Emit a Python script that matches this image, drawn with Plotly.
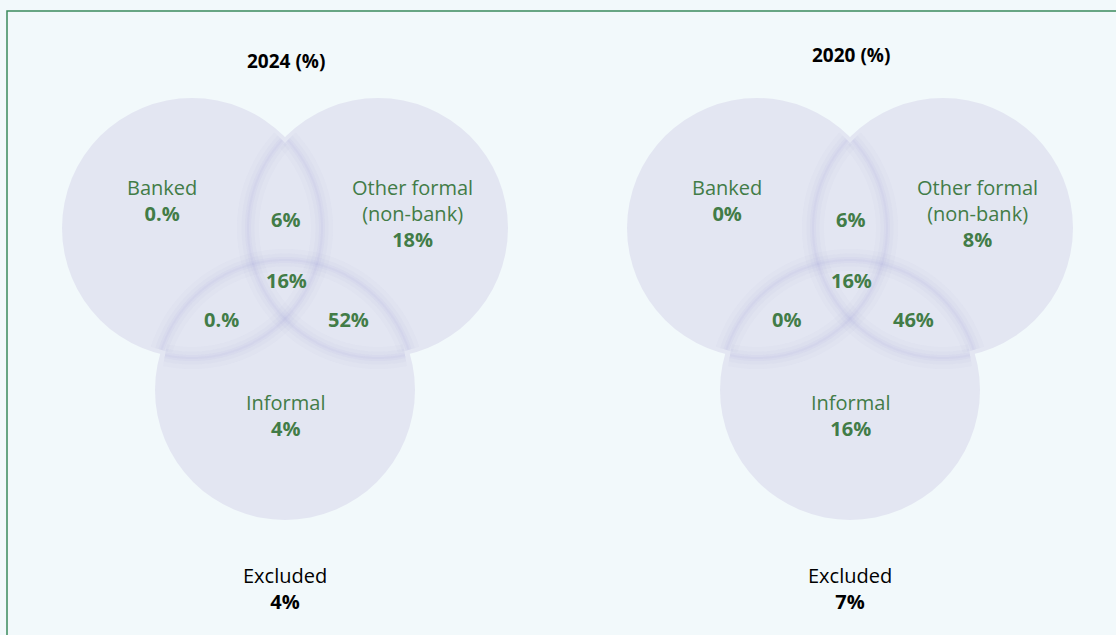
import numpy as np
import plotly.graph_objects as go

# --- data -------------------------------------------------------------
panels = ["2024 (%)", "2020 (%)"]
set_names = ["Banked", "Other formal<br>(non-bank)", "Informal"]
banked_only = ["0.%", "0%"]
other_only = ["18%", "8%"]
informal_only = ["4%", "16%"]
banked_other = ["6%", "6%"]
banked_informal = ["0.%", "0%"]
other_informal = ["52%", "46%"]
all_three = ["16%", "16%"]
excluded = ["4%", "7%"]

# --- layout -------------------------------------------------------------
W, H = 1116, 635
BG = "#f2f9fb"
FILL = "#e3e6f2"
GREEN = "#427c47"
FONT = "Open Sans"
R = 130
panel_cx = [285, 850]
title_y = [61, 55]

fig = go.Figure()


def circles_for(cx):
    return [(cx - 93, 228), (cx + 93, 228), (cx, 390)]


def inner_arcs(circs, i):
    # pieces of circle i's edge that lie inside another circle
    x0, y0 = circs[i]
    th = np.linspace(0, 2 * np.pi, 721)
    px = x0 + R * np.cos(th)
    py = y0 + R * np.sin(th)
    inside = np.zeros_like(th, dtype=bool)
    for j, (xj, yj) in enumerate(circs):
        if j != i:
            inside |= (px - xj) ** 2 + (py - yj) ** 2 < (R - 4) ** 2
    runs, cur = [], []
    for k in range(len(th)):
        if inside[k]:
            cur.append((px[k], py[k]))
        elif cur:
            runs.append(cur)
            cur = []
    if cur:
        if runs and inside[0]:
            runs[0] = cur + runs[0]
        else:
            runs.append(cur)
    return runs


shapes = []
for cx in panel_cx:
    circs = circles_for(cx)
    for (x, y) in circs:
        shapes.append(dict(type="circle", xref="x", yref="y",
                           x0=x - R, x1=x + R, y0=y - R, y1=y + R,
                           fillcolor=FILL, line=dict(width=0), layer="below"))
    # soft shading along the overlapping edges
    for i in range(3):
        for run in inner_arcs(circs, i):
            path = "M " + " L ".join(f"{a:.1f},{b:.1f}" for a, b in run)
            for w, a in [(22, 0.04), (13, 0.05), (6, 0.06), (2, 0.07)]:
                shapes.append(dict(type="path", xref="x", yref="y", path=path,
                                   line=dict(color=f"rgba(150,160,215,{a})", width=w),
                                   layer="below"))

# frame (only top and left edges fall inside the picture)
shapes.append(dict(type="rect", xref="x", yref="y", x0=7, x1=W + 20, y0=11, y1=H + 20,
                   line=dict(color="#3b8a5d", width=1.5), fillcolor="rgba(0,0,0,0)"))

ann = []


def label(x, y, text, color=GREEN, size=20):
    ann.append(dict(x=x, y=y, xref="x", yref="y", text=text, showarrow=False,
                    font=dict(family=FONT, size=size, color=color),
                    xanchor="center", yanchor="middle", align="center"))


for p, cx in enumerate(panel_cx):
    label(cx + 1, title_y[p], f"<b>{panels[p]}</b>", color="black", size=19)
    label(cx - 123, 200, f"{set_names[0]}<br><b>{banked_only[p]}</b>")
    label(cx + 127, 213, f"{set_names[1]}<br><b>{other_only[p]}</b>")
    label(cx, 415, f"{set_names[2]}<br><b>{informal_only[p]}</b>")
    label(cx, 219, f"<b>{banked_other[p]}</b>")
    label(cx + 1, 280, f"<b>{all_three[p]}</b>")
    label(cx - 64, 319, f"<b>{banked_informal[p]}</b>")
    label(cx + 63, 319, f"<b>{other_informal[p]}</b>")
    label(cx, 588, f"Excluded<br><b>{excluded[p]}</b>", color="black")

fig.update_layout(
    width=W, height=H,
    margin=dict(l=0, r=0, t=0, b=0),
    paper_bgcolor=BG, plot_bgcolor=BG,
    xaxis=dict(range=[0, W], visible=False, fixedrange=True),
    yaxis=dict(range=[H, 0], visible=False, fixedrange=True),
    shapes=shapes, annotations=ann, showlegend=False,
)

fig.write_html("out.html", config={"displayModeBar": False},
               post_script="document.body.style.margin='0';document.body.style.overflow='hidden';")
